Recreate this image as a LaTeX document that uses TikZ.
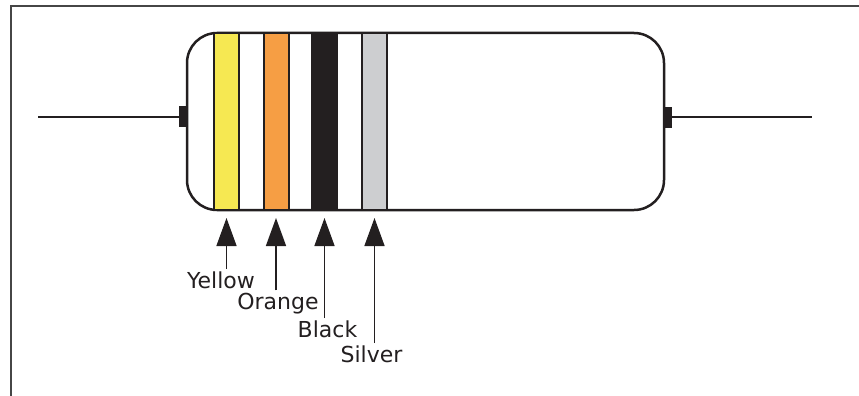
\documentclass[tikz,border=0pt]{standalone}
\usepackage{fontspec}
\setmainfont{DejaVu Sans}
\usetikzlibrary{arrows.meta,positioning}
\definecolor{ink}{RGB}{35,31,32}
\definecolor{framegray}{RGB}{70,70,70}
\definecolor{bandyellow}{RGB}{246,232,82}
\definecolor{bandorange}{RGB}{246,158,68}
\definecolor{bandsilver}{RGB}{205,206,208}

\begin{document}
\begin{tikzpicture}[x=1pt,y=-1pt,
  band/.style={draw=ink, line width=2pt, minimum width=25pt, minimum height=177pt, inner sep=0pt},
  tab/.style={fill=ink, minimum width=8pt, minimum height=21pt, inner sep=0pt},
  pointer/.style={draw=ink, line width=1.5pt, -{Triangle[width=20pt,length=28pt]}},
  colname/.style={text=ink, font=\fontsize{22}{22}\selectfont, inner sep=2pt}]
\useasboundingbox (0,0) rectangle (859,396);
% open frame, top and left only
\draw[framegray, line width=2pt] (11,396) -- (11,6) -- (859,6);

% body of the resistor
\node (body) [draw=ink, line width=2.5pt, rounded corners=30pt,
  minimum width=477pt, minimum height=177pt, inner sep=0pt] at (425.5,121.5) {};

% leads
\node (ltab) [tab, anchor=east] at (187,116) {};
\node (rtab) [tab, anchor=west] at (664,117) {};
\coordinate (lend) at (38,117);
\coordinate (rend) at (812,117);
\draw[ink, line width=2pt] (lend) -- (lend -| ltab.west);
\draw[ink, line width=2pt] (rtab.east |- rend) -- (rend);

% colour bands
\node (yellowband) [band, fill=bandyellow] at (226.5,121.5) {};
\node (orangeband) [band, fill=bandorange] at (276,121.5) {};
\node (blackband) [band, fill=ink] at (324.5,121.5) {};
\node (silverband) [band, fill=bandsilver] at (374.5,121.5) {};

% names under the bands
\node (yellowtext) [colname, anchor=base] at (221,288) {Yellow};
\node (orangetext) [colname, anchor=base] at (278,309) {Orange};
\node (blacktext) [colname, anchor=base] at (327.5,337) {Black};
\node (silvertext) [colname, anchor=base] at (371.5,362) {Silver};

\draw[pointer] (yellowtext.north -| yellowband.south) -- ([yshift=-7pt]yellowband.south);
\draw[pointer] (orangetext.north -| orangeband.south) -- ([yshift=-7pt]orangeband.south);
\draw[pointer] (blacktext.north -| blackband.south) -- ([yshift=-7pt]blackband.south);
\draw[pointer] (silvertext.north -| silverband.south) -- ([yshift=-7pt]silverband.south);
\end{tikzpicture}
\end{document}
